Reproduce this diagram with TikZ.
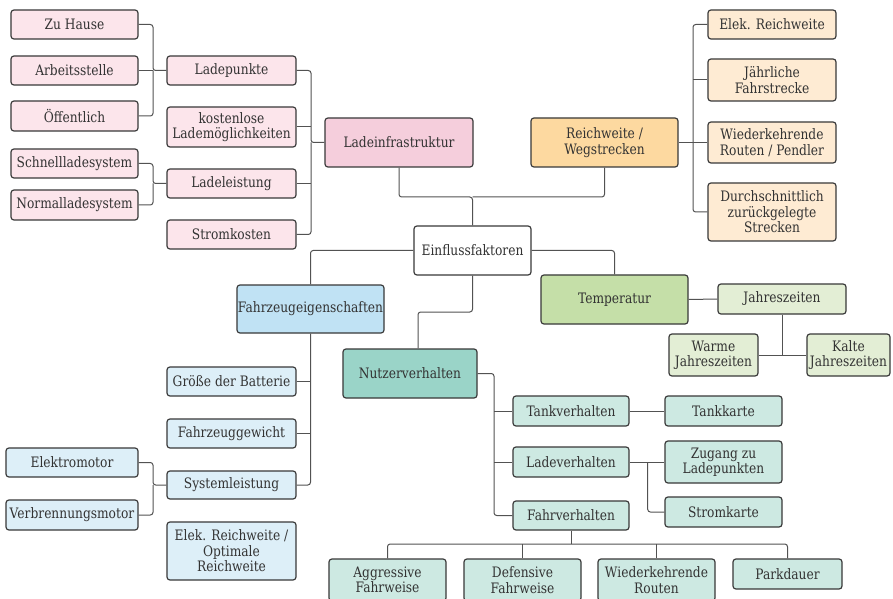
\documentclass[tikz,border=0pt]{standalone}
\usepackage{fontspec}
\setmainfont[FakeStretch=0.85]{DejaVu Serif}
\begin{document}
\begin{tikzpicture}[x=0.75pt,y=-0.75pt,
  wh/.style 2 args={minimum width=#1*0.75pt, minimum height=#2*0.75pt},
  box/.style={draw=black!78, line width=0.9pt, rounded corners=2.2pt, inner sep=0pt,
    align=center, text=black!80, font=\fontsize{10.8}{11.6}\selectfont},
  link/.style={draw=black!68, line width=0.75pt, rounded corners=2pt}]
\definecolor{pinkL}{HTML}{FCE5EB}
\definecolor{pinkM}{HTML}{F5CEDC}
\definecolor{orangeM}{HTML}{FDD9A0}
\definecolor{orangeL}{HTML}{FEEBD3}
\definecolor{greenM}{HTML}{C5DFA8}
\definecolor{greenL}{HTML}{E3EED5}
\definecolor{tealM}{HTML}{9AD4C8}
\definecolor{tealL}{HTML}{CDE9E2}
\definecolor{blueM}{HTML}{C0E2F4}
\definecolor{blueL}{HTML}{DDEFF8}
\useasboundingbox (0,0) rectangle (893,599);
\clip (0,0) rectangle (893,599);
% pink group
\node[box, fill=pinkL, wh={127}{29}] (zuhause) at (74.5,24.5) {Zu Hause};
\node[box, fill=pinkL, wh={127}{29}] (arbeit) at (74.5,70.5) {Arbeitsstelle};
\node[box, fill=pinkL, wh={127}{30}] (oeff) at (74.5,116) {Öffentlich};
\node[box, fill=pinkL, wh={127}{29}] (schnell) at (74.5,163.5) {Schnellladesystem};
\node[box, fill=pinkL, wh={127}{30}] (normal) at (74.5,205) {Normalladesystem};
\node[box, fill=pinkL, wh={129}{29}] (ladepunkte) at (231.5,70.5) {Ladepunkte};
\node[box, fill=pinkL, wh={129}{40}] (kostenlos) at (231.5,127) {kostenlose\\Lademöglichkeiten};
\node[box, fill=pinkL, wh={129}{29}] (ladeleistung) at (231.5,183.5) {Ladeleistung};
\node[box, fill=pinkL, wh={129}{29}] (stromkosten) at (231.5,234.5) {Stromkosten};
\node[box, fill=pinkM, wh={148}{49}] (ladeinfra) at (399,142.5) {Ladeinfrastruktur};
% center
\node[box, fill=white, wh={117}{49}] (einfluss) at (472.5,250.5) {Einflussfaktoren};
% orange group
\node[box, fill=orangeM, wh={147}{49}] (reich) at (604.5,142.5) {Reichweite /\\Wegstrecken};
\node[box, fill=orangeL, wh={128}{29}] (elek) at (772,24.5) {Elek. Reichweite};
\node[box, fill=orangeL, wh={128}{42}] (jaehrl) at (772,80) {Jährliche\\Fahrstrecke};
\node[box, fill=orangeL, wh={128}{41}] (wiederk) at (772,142.5) {Wiederkehrende\\Routen / Pendler};
\node[box, fill=orangeL, wh={128}{58}] (durch) at (772,212) {Durchschnittlich\\zurückgelegte\\Strecken};
% green group
\node[box, fill=greenM, wh={147}{49}] (temp) at (614.5,299.5) {Temperatur};
\node[box, fill=greenL, wh={128}{30}] (jahres) at (782,299) {Jahreszeiten};
\node[box, fill=greenL, wh={89}{42}] (warme) at (713.5,355) {Warme\\Jahreszeiten};
\node[box, fill=greenL, wh={83}{42}] (kalte) at (848.5,355) {Kalte\\Jahreszeiten};
% blue group
\node[box, fill=blueM, wh={147}{48}] (fahrzeug) at (310.5,309) {Fahrzeugeigenschaften};
\node[box, fill=blueL, wh={129}{29}] (groesse) at (231.5,381.5) {Größe der Batterie};
\node[box, fill=blueL, wh={129}{29}] (gewicht) at (231.5,433.5) {Fahrzeuggewicht};
\node[box, fill=blueL, wh={129}{28}] (systeml) at (231.5,485) {Systemleistung};
\node[box, fill=blueL, wh={129}{58}] (elekopt) at (231.5,551) {Elek. Reichweite /\\Optimale\\Reichweite};
\node[box, fill=blueL, wh={132}{29}] (elektro) at (72,462.5) {Elektromotor};
\node[box, fill=blueL, wh={132}{30}] (verbr) at (72,515) {Verbrennungsmotor};
% teal group
\node[box, fill=tealM, wh={134}{49}] (nutzer) at (410,373.5) {Nutzerverhalten};
\node[box, fill=tealL, wh={116}{30}] (tankv) at (571,411) {Tankverhalten};
\node[box, fill=tealL, wh={116}{30}] (ladev) at (571,462) {Ladeverhalten};
\node[box, fill=tealL, wh={116}{29}] (fahrv) at (571,515.5) {Fahrverhalten};
\node[box, fill=tealL, wh={117}{30}] (tankkarte) at (723.5,411) {Tankkarte};
\node[box, fill=tealL, wh={117}{42}] (zugang) at (723.5,462) {Zugang zu\\Ladepunkten};
\node[box, fill=tealL, wh={117}{30}] (stromkarte) at (723.5,512) {Stromkarte};
\node[box, fill=tealL, wh={117}{42}] (aggr) at (387.5,580) {Aggressive\\Fahrweise};
\node[box, fill=tealL, wh={117}{42}] (defens) at (522.5,580) {Defensive\\Fahrweise};
\node[box, fill=tealL, wh={117}{42}] (wiederr) at (656.5,580) {Wiederkehrende\\Routen};
\node[box, fill=tealL, wh={109}{30}] (park) at (787.5,574) {Parkdauer};
% bus coordinates
\coordinate (b1) at (153,70.5);
\coordinate (b2) at (311,142.5);
\coordinate (b3) at (153,183.5);
\coordinate (b4) at (472.5,197);
\coordinate (b5) at (693,142.5);
\coordinate (n1) at (418,312);
\coordinate (n2) at (494,515.5);
\coordinate (j1) at (782,355);
\coordinate (l1) at (647.7,462);
\coordinate (f1) at (571,544);
\coordinate (fz1) at (310.5,485);
\coordinate (e1) at (153,485);
% connectors
\path[link] (zuhause.east) -| (b1) -- (ladepunkte.west);
\path[link] (arbeit.east) -- (b1);
\path[link] (oeff.east) -| (b1);
\path[link] (schnell.east) -| (b3) -- (ladeleistung.west);
\path[link] (normal.east) -| (b3);
\path[link] (ladepunkte.east) -| (b2) -- (ladeinfra.west);
\path[link] (kostenlos.east) -- (kostenlos.east -| b2);
\path[link] (ladeleistung.east) -- (ladeleistung.east -| b2);
\path[link] (stromkosten.east) -| (b2);
\path[link] (ladeinfra.south) |- (b4) -- (einfluss.north);
\path[link] (reich.south) |- (b4);
\path[link] (reich.east) -- (b5);
\path[link] (elek.west) -| (b5);
\path[link] (jaehrl.west) -- (jaehrl.west -| b5);
\path[link] (wiederk.west) -- (b5);
\path[link] (durch.west) -| (b5);
\path[link] (einfluss.west) -| (fahrzeug.north);
\path[link] (einfluss.east) -| (temp.north);
\path[link] (einfluss.south) |- (n1) -- (n1 |- nutzer.north);
\path[link] (temp.east) -- (jahres.west);
\path[link] (jahres.south) -- (j1);
\path[link] (warme.east) -- (kalte.west);
\path[link] (nutzer.east) -| (n2) -- (fahrv.west);
\path[link] (tankv.west) -- (tankv.west -| n2);
\path[link] (ladev.west) -- (ladev.west -| n2);
\path[link] (tankv.east) -- (tankkarte.west);
\path[link] (ladev.east) -- (zugang.west);
\path[link] (l1) |- (stromkarte.west);
\path[link] (fahrv.south) -- (f1);
\path[link] (aggr.north) |- (f1);
\path[link] (park.north) |- (f1);
\path[link] (defens.north) -- (defens.north |- f1);
\path[link] (wiederr.north) -- (wiederr.north |- f1);
\path[link] (fahrzeug.south) -- (fz1) -- (systeml.east);
\path[link] (groesse.east) -- (groesse.east -| fz1);
\path[link] (gewicht.east) -- (gewicht.east -| fz1);
\path[link] (elektro.east) -| (e1) -- (systeml.west);
\path[link] (verbr.east) -| (e1);
\end{tikzpicture}
\end{document}
